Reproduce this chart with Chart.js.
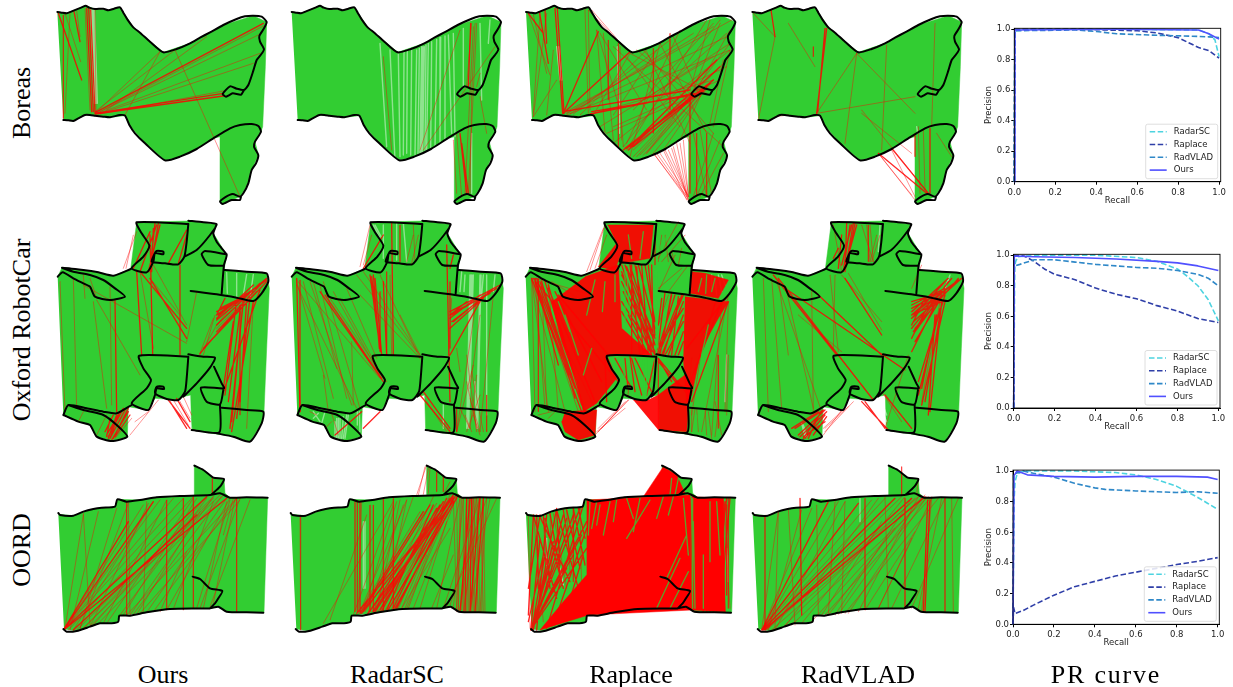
<!DOCTYPE html>
<html>
<head>
<meta charset="utf-8">
<script src="https://cdn.jsdelivr.net/npm/chart.js@4/dist/chart.umd.min.js"></script>
<style>
html,body{margin:0;padding:0;background:#fff;width:1233px;height:687px;overflow:hidden}
canvas{position:absolute;pointer-events:none}
.lab{position:absolute;font-family:"Liberation Serif",serif;font-size:26px;color:#000;white-space:nowrap;transform:translate(-50%,-50%)}
.rot{transform:translate(-50%,-50%) rotate(-90deg)}
</style>
</head>
<body>
<script>
/* ---------- PR curve data: [recall, precision] ---------- */
const prLabels = ['RadarSC','Raplace','RadVLAD','Ours'];
const prXTicks = [0,0.2,0.4,0.6,0.8,1.0];

const boreasRadarSC = [[0,0],[0.002,.99],[.1,1],[.5,1],[.9,.995],[.95,.97],[.98,.93],[1,.82]];
const boreasRaplace = [[0,0],[.003,1],[.3,1],[.6,.99],[.7,.975],[.8,.945],[.9,.88],[.95,.86],[1,.81]];
const boreasRadVLAD = [[0,0],[.003,.99],[.3,.995],[.4,.985],[.5,.97],[.7,.96],[.85,.955],[.95,.95],[1,.945]];
const boreasOurs    = [[0,0],[.003,.995],[.5,1],[.9,.995],[.95,.97],[1,.935]];

const oxfordRadarSC = [[0,0],[.005,.93],[.01,.96],[.02,.99],[.1,1],[.4,1],[.6,.985],[.7,.96],[.8,.91],[.85,.86],[.9,.8],[.95,.71],[1,.57]];
const oxfordRaplace = [[0,0],[.003,1],[.05,.995],[.1,.96],[.15,.91],[.2,.875],[.3,.84],[.4,.785],[.5,.745],[.6,.715],[.7,.67],[.8,.635],[.9,.585],[1,.56]];
const oxfordRadVLAD = [[0,0],[.003,.93],[.03,.94],[.1,.97],[.2,.97],[.3,.955],[.4,.94],[.5,.93],[.6,.92],[.7,.915],[.8,.9],[.9,.875],[.95,.85],[1,.8]];
const oxfordOurs    = [[0,0],[.003,.995],[.1,.99],[.3,.985],[.5,.975],[.7,.96],[.8,.95],[.9,.93],[1,.9]];

const oordRadarSC = [[0,0],[.005,.8],[.01,.93],[.02,.98],[.05,1],[.3,1],[.5,.99],[.6,.975],[.7,.945],[.8,.9],[.9,.83],[.95,.79],[1,.75]];
const oordRaplace = [[0,0],[.003,.11],[.01,.07],[.05,.09],[.1,.125],[.2,.19],[.3,.245],[.4,.28],[.5,.315],[.6,.34],[.7,.365],[.8,.39],[.9,.41],[1,.435]];
const oordRadVLAD = [[0,0],[.003,.98],[.05,1],[.1,.985],[.2,.96],[.3,.92],[.4,.89],[.45,.88],[.6,.87],[.7,.865],[.8,.86],[.9,.865],[1,.855]];
const oordOurs    = [[0,0],[.005,.97],[.02,1],[.04,.99],[.07,.975],[.2,.965],[.4,.96],[.6,.965],[.8,.965],[.95,.96],[1,.945]];

/* ---------- Trajectory outlines (map units) ---------- */
const boreasArea = [[52,36],[80,40],[110,28],[137,17],[165,27],[205,31],[240,22],[280,82],[370,157],[450,130],[550,75],[640,47],[680,66],[676,200],[668,380],[663,395],[645,425],[655,465],[635,510],[625,550],[600,590],[575,600],[548,612],[540,605],[540,410],[520,415],[470,447],[420,470],[375,481],[315,430],[268,375],[255,347],[210,352],[165,347],[135,345],[100,363],[70,360]];
const boreasTrack = [
 [[52,36],[65,38],[80,40],[95,34],[110,28],[125,22],[137,17],[148,23],[165,27],[190,26],[205,31],[222,26],[240,22],[250,38],[262,58],[280,82],[300,98],[330,125],[370,157],[410,147],[450,130],[480,113],[510,97],[550,75],[590,57],[615,49],[640,47],[665,50],[680,66],[672,85],[658,108],[660,125],[672,148],[662,165],[650,180],[640,212],[625,255],[612,270],[590,266],[570,259],[548,282],[558,290],[578,280],[603,284],[612,270]],
 [[70,360],[85,361],[100,363],[115,355],[135,345],[150,345],[165,347],[190,350],[210,352],[240,345],[255,347],[268,375],[285,400],[315,430],[375,481],[420,470],[470,447],[520,415],[570,385],[600,375],[635,372],[655,378],[663,395],[645,425],[642,440],[655,465],[648,490],[635,510],[625,550],[610,580],[600,590],[578,582],[555,592],[540,605],[548,612],[575,600],[600,600],[603,590]]
];
const oxfordArea = [[53,185],[66,158],[130,165],[220,182],[272,162],[290,22],[445,18],[530,28],[520,55],[560,120],[552,165],[680,175],[688,220],[680,400],[672,590],[665,625],[630,680],[580,665],[455,645],[452,540],[430,545],[415,555],[345,550],[322,585],[265,575],[262,665],[215,678],[170,665],[150,630],[115,620],[70,600]];
const oxfordTrack = [
 [[53,185],[68,172],[100,190],[130,205],[150,215],[165,245],[210,255],[255,245],[225,220],[190,195],[150,180],[100,170],[66,158],[130,165],[175,172],[220,182],[272,162]],
 [[445,27],[290,22],[305,55],[328,92],[310,125],[275,160],[320,172],[340,140],[345,115],[370,118],[370,110],[350,108],[342,120],[335,140],[375,145],[415,148],[433,125],[440,80],[445,27]],
 [[445,17],[490,22],[530,28],[510,60],[470,105],[433,125]],
 [[530,28],[520,55],[530,80],[545,100],[560,120],[552,150],[545,235]],
 [[555,165],[620,170],[680,175],[685,200],[665,235],[640,258],[590,248],[530,238],[452,228]],
 [[560,118],[495,108],[485,118],[505,150],[550,152]],
 [[445,425],[297,422],[310,460],[333,495],[320,520],[275,565],[325,585],[345,540],[350,520],[372,522],[370,515],[350,515],[345,535],[380,552],[415,555],[435,530],[440,490],[445,425]],
 [[445,418],[490,425],[525,428],[510,458],[470,505],[430,545]],
 [[522,455],[545,505],[552,520],[483,518],[500,560],[540,568],[550,525]],
 [[540,568],[538,652],[455,645]],
 [[545,578],[620,585],[670,590],[665,625],[630,680],[580,665],[530,655]],
 [[70,600],[85,570],[140,580],[190,590],[230,595],[275,570]],
 [[70,600],[115,620],[150,630],[170,665],[215,678],[262,665],[230,630],[190,600],[130,585],[85,570]]
];
const oordArea = [[55,178],[100,182],[160,162],[225,155],[232,133],[300,135],[350,127],[463,123],[463,32],[490,45],[520,68],[552,72],[555,115],[570,128],[683,128],[672,473],[620,472],[560,470],[535,455],[510,460],[390,462],[320,472],[238,482],[235,500],[180,505],[110,528],[72,522]];
const oordTrack = [
 [[55,174],[60,180],[100,182],[130,170],[160,162],[185,158],[225,155],[232,133],[260,140],[300,135],[350,127],[420,123],[510,120],[540,115],[570,128],[620,127],[683,128]],
 [[463,32],[490,45],[520,68],[552,72],[540,95],[515,118]],
 [[70,522],[80,530],[110,528],[150,515],[180,505],[215,505],[235,500],[238,482],[270,482],[320,472],[390,462],[510,460],[535,455],[560,470],[620,472],[670,473]],
 [[458,365],[480,372],[510,400],[547,408],[535,430],[525,445],[510,460]]
];

/* ---------- Correspondence lines: [x1,y1,x2,y2] ---------- */
const b1Bold = [[55,40,125,240],[102,35,120,125],[140,25,155,335],[146,25,160,335],[152,30,165,340],[165,342,550,288],[165,340,550,280],[165,338,670,70]];
const b1Thin = [[75,40,122,185],[110,32,120,110],[165,30,168,335],[135,25,150,330],[170,340,670,78],[170,340,665,100],[170,342,660,160],[175,342,640,190],[180,342,555,272],[255,345,360,155],[200,330,500,110],[165,335,405,150],[405,150,600,590],[165,340,360,155],[70,45,70,355],[90,40,75,340]];
const b1Gap  = [[152,30,163,310],[156,30,167,310],[160,30,170,310],[163,30,172,310],[154,30,165,310],[158,30,169,310]];

const b2Bold = [[540,400,560,580],[545,430,565,580],[572,70,565,260]];
const b2Thin = [[310,170,335,450],[540,90,420,450],[645,140,430,450],[575,70,560,260],[585,70,575,285],[590,70,565,580],[580,80,555,580],[600,290,620,400],[600,220,590,260],[530,400,545,590],[520,420,530,580],[575,285,570,580]];
const b2Gap  = [[382,150,380,460],[425,140,420,460],[429,140,424,460],[433,140,428,460],[445,130,440,450],[470,118,465,440],[505,105,515,400],[575,400,575,580],[300,130,320,440],[330,150,345,480],[600,70,605,300],[630,60,625,130],[410,150,405,465],[355,160,360,470],[372,155,370,465],[395,148,392,465],[418,145,414,462],[438,135,435,455],[455,125,452,445],[482,112,480,430],[495,108,495,425],[520,100,525,410],[550,85,550,260]];

const b3Bold = [[745,40,790,100],[778,35,805,190],[795,30,800,130],[825,25,848,340],[832,25,852,340],[850,340,1050,155],[850,340,955,95],[930,342,1245,280],[935,335,1240,285],[850,335,1230,270],[1035,445,1300,240],[1030,450,1280,260],[1050,440,1310,180],[1040,445,1290,250],[1060,440,1270,270],[1045,450,1320,200]];
const b3Thin = [[745,40,810,225],[915,28,925,340],[925,30,930,330],[950,90,975,400],[1015,130,1015,440],[1020,140,1025,420],[850,340,1355,60],[860,340,1340,110],[860,345,1350,150],[940,340,1300,240],[1050,160,1280,280],[1000,140,1330,440],[1090,150,1300,400],[1170,100,1170,330],[1200,90,1040,430],[1280,60,1040,450],[1320,60,1030,440],[1350,130,1100,460],[1330,190,1060,470],[960,380,1300,170],[1000,430,1350,150],[950,90,1020,330],[1230,290,1230,580],[1240,400,1280,590],[1300,400,1240,590],[1330,460,1260,590],[1280,400,1280,590],[1120,460,1220,590],[1150,450,1220,600],[1165,450,1225,590],[1190,430,1225,600],[1210,420,1225,590],[1140,460,1220,580],[1130,460,1218,585],[1175,445,1222,595],[925,30,1030,140],[935,30,1040,150],[1100,155,1230,430],[1140,130,1050,470],[1180,110,1260,290],[1250,290,1100,460],[1230,290,1060,450],[970,100,1000,420],[800,40,760,350],
 [1290,60,1230,270],[1320,70,1240,270],[1350,90,1250,270],[1300,240,1120,460],[1290,250,1090,465],[1280,260,1150,450],[1260,280,1080,465],[1240,285,1070,470],[1270,270,1200,420],[1330,180,1290,370],[1350,150,1300,380],[860,340,1300,80],[870,342,1240,100],[880,342,1170,120],[900,345,1100,150],[940,345,1050,160],[1000,345,1130,150],[1060,330,1300,70],[1100,310,1340,100],[1130,300,1340,200],[1000,380,1320,240],[980,400,1280,270],[960,100,1100,330],[1040,170,1200,380],[1070,150,1230,280],[1140,130,1280,400],[1250,400,1250,585],[1260,390,1295,585],[1320,420,1250,590],[760,45,800,220],[780,40,760,340],[830,240,760,350],[820,150,800,345],[1120,145,1120,400],[1020,300,1030,440],[985,120,985,300],[1060,320,1350,130],[1155,450,1222,585],[1180,440,1224,598],[1200,430,1226,590],[1125,465,1223,600]];
const b3Gap  = [[830,140,840,240],[834,140,844,240],[838,140,846,240],[1012,140,1016,300],[1018,300,1018,400]];

const b4Bold = [[78,30,90,110],[245,85,215,340],[240,85,218,335],[400,460,545,580],[440,445,550,580],[555,385,555,580]];
const b4Thin = [[25,40,90,110],[90,110,40,360],[205,140,205,170],[130,70,210,200],[215,340,335,160],[335,160,300,430],[425,135,410,450],[335,160,510,340],[350,340,500,460],[400,460,510,600],[510,400,510,470],[520,380,525,580],[535,390,540,570],[570,70,560,380],[575,400,620,470],[215,340,510,290],[90,350,130,345],[350,330,550,580],[440,450,510,590],[400,460,500,585]];
const b4Gap  = [[515,380,518,400]];

const o1Bold = [[290,170,305,420],[330,60,338,420],[345,25,330,160],[355,25,330,170],[300,170,440,340],[330,190,440,370],[440,45,385,145],[440,60,415,145],[280,160,330,50],[225,255,230,590],[680,190,530,315],[670,200,530,350],[640,230,480,415],[650,215,530,300],[610,250,530,290],[590,255,555,540],[660,225,550,530],[640,260,575,650],[610,250,575,620],[620,255,600,560],[555,250,530,300],[250,580,205,665],[265,580,220,670],[240,590,200,660],[220,600,195,650],[235,600,210,670],[385,555,450,640],[390,560,440,640],[410,550,450,620],
 [680,195,535,300],[660,205,530,330],[640,210,530,310],[620,235,530,300],[600,250,540,280],[680,200,500,390],[650,230,490,400],[610,260,570,640],[630,245,590,610],[600,290,565,560],[580,320,550,520],[255,585,210,670],[230,600,205,670],[210,610,200,665],[265,590,215,675],[270,600,225,665],[350,30,300,170],[340,40,335,170],[360,30,325,170]];
const o1Thin = [[130,180,135,250],[170,255,300,480],[130,210,440,385],[210,215,215,570],[300,170,340,400],[275,610,225,670],[355,555,270,660],[325,590,285,620],[430,545,455,600],[525,300,490,420],[520,310,478,420],[470,230,440,380],[420,150,420,420],[290,50,250,160],[280,60,258,160],[330,190,420,300],[340,150,440,330],[600,270,600,600],[530,330,480,420],[610,260,530,340],[570,280,530,330],[150,190,170,250],[200,600,170,660],[130,590,115,620],[100,190,110,580],[60,200,75,590],[160,260,200,580],[640,260,620,640],[420,560,450,610],[400,555,445,630]];
const o1Gap  = [[560,172,562,235],[590,175,590,245],[640,178,630,250],[620,178,610,240],[440,545,455,640]];

const o2Bold = [[270,180,300,400],[285,190,305,420],[310,200,320,420],[335,25,340,420],[50,190,60,590],[120,230,310,500],[135,240,305,490],[310,60,250,160],[500,90,510,560],[520,120,510,160],[660,210,510,290],[600,240,510,310],[640,220,520,320],[610,250,510,340],[600,260,510,420],[245,590,165,660],[300,590,250,640],[420,540,510,650],[430,530,510,640],[275,185,302,410],[280,180,298,400],[650,220,515,300],[630,235,515,295],[560,260,510,300],[620,240,515,320]];
const o2Thin = [[50,200,135,490],[50,195,300,490],[50,210,230,580],[90,200,215,570],[130,200,240,580],[150,250,320,500],[240,240,420,430],[300,180,420,430],[360,300,420,420],[590,250,530,650],[640,240,600,650],[560,420,590,650],[530,400,540,470],[580,450,530,650],[600,300,570,520],[620,540,620,650],[270,30,240,155],[275,60,250,150],[400,60,380,140],[415,60,395,145],[440,560,500,650],[400,30,405,140],[360,30,360,140],[590,480,570,640],[530,580,530,650],[600,540,560,650],[580,600,600,660],[150,580,175,660],[110,600,90,590],
 [60,195,60,590],[70,200,160,550],[100,200,170,460],[120,210,200,550],[160,230,300,480],[180,250,310,490],[200,220,290,430],[230,180,410,410],[250,170,420,420],[300,230,300,410],[320,170,320,420],[330,180,335,420],[510,200,510,400],[515,250,505,420],[540,580,570,640],[555,600,575,650],[570,550,600,650],[575,470,610,650],[560,500,590,640],[135,640,155,620],[130,480,145,590],[215,380,220,570]];
const o2Gap  = [[570,180,560,640],[573,180,563,640],[600,180,590,640],[603,180,593,640],[620,180,620,600],[545,170,540,230],[310,30,310,130],[370,25,380,140],[280,30,300,70],[285,30,303,65],[100,590,120,620],[200,600,190,670],[205,600,195,670],[165,620,165,670],[170,610,170,670],[175,610,175,670],[115,595,100,610],[135,590,125,625],[555,180,552,230],[490,570,490,640],[645,180,640,230],[350,25,350,135],[576,180,566,640],[580,180,570,500],[610,180,605,240],[180,610,180,670],[190,605,185,670],[232,590,232,630],[238,590,240,650],[585,500,590,640]];

const o3Blob = [
 [[210,185],[310,150],[320,340],[410,420],[275,420],[305,490],[245,565],[205,590],[185,500],[140,380],[110,260]],
 [[278,30],[415,30],[405,130],[320,145],[318,115],[300,165],[250,155],[305,85]],
 [[510,245],[640,260],[610,310],[560,400],[530,540],[515,560],[505,430]],
 [[355,555],[400,555],[430,540],[510,480],[525,520],[515,650],[430,645]],
 [[150,590],[245,585],[240,660],[190,675],[150,650],[140,620]],
 [[530,170],[570,175],[640,195],[610,250],[525,235]]
];
const o3Bold = [[320,150,410,420],[330,150,415,400],[345,150,420,390],[320,200,420,410],[320,260,420,420],[370,150,420,340],[390,150,420,320],[350,150,350,420],[380,150,400,420],[320,180,415,370],[505,240,430,420],[505,260,440,420],[505,300,460,420],[480,240,430,400],[505,350,480,420],[50,190,200,590],[60,190,130,450],[80,200,180,550],[90,200,210,590],[100,210,200,560],[130,240,280,420],[55,190,310,500],[270,430,275,560],[330,430,340,540],[350,430,380,540],[430,430,470,500],[440,250,430,330],[470,240,440,390],
 [60,195,210,590],[65,190,170,480],[50,190,180,520],[75,200,200,570],[80,200,140,400],[60,200,110,350],[100,220,240,560],[120,230,260,500],[640,260,530,560],[620,260,525,500],[600,265,515,560],[640,240,515,400],[320,170,420,415],[335,155,420,370],[325,230,410,420],[340,300,400,420],[360,150,410,410],[400,150,420,360],[410,150,415,400],[320,290,390,410],[365,155,385,420],[345,150,375,420],[500,240,445,420],[495,250,425,420],[470,232,435,420],[450,232,430,390],[505,320,450,420],[505,380,490,420],[505,280,425,405],[490,245,470,420],[345,425,360,530],[360,430,410,530],[300,430,350,520],[420,430,395,540],[430,440,490,510],[520,540,430,430]];
const o3Thin = [[50,190,60,590],[50,190,100,590],[50,195,150,590],[60,200,190,590],[60,200,240,580],[60,190,90,580],[70,190,70,590],[640,260,630,590],[620,260,590,660],[530,650,530,580],[545,580,550,650],[580,590,590,670],[640,240,560,650],[600,560,620,660],[270,30,225,165],[275,60,240,160],[265,40,215,170],[340,555,240,660],[330,560,260,640],[340,555,250,650],[300,590,250,640],[330,580,245,650],[430,430,430,640],[420,60,420,150],[440,60,430,140],[470,110,480,150],[500,100,490,150],[110,590,70,600],[110,200,190,250],[60,190,230,240],[540,580,530,650],[560,400,530,600],[610,420,610,640],[640,420,635,600],[120,590,100,610],[460,240,430,330],[80,190,95,580],[100,200,130,590],[450,60,460,140],[490,20,430,130],[510,60,440,140],[480,120,430,230],[500,160,430,220],[520,150,460,230],[530,430,520,560],[570,580,575,660],[610,590,600,665]];
const o3Keep = [[330,170,330,320],[335,170,345,300],[420,160,425,420],[424,160,429,400],[455,30,430,120],[465,30,440,110],[318,430,340,540],[385,430,390,540],[395,430,395,540],[420,430,420,530],[600,190,590,230],[560,190,550,230],[575,180,572,235],[580,330,560,420],[545,600,545,640],[240,195,215,300],[270,200,262,290],[300,180,300,260],[230,400,205,480],[340,60,350,130],[385,50,375,130],[150,300,190,420],[130,260,165,350]];
const o3Gap  = [[600,185,605,240],[610,180,620,230],[620,180,630,210],[590,180,590,220],[635,420,630,560],[285,600,250,640]];

const o4Bold = [[305,25,300,165],[325,25,300,170],[330,25,310,130],[85,180,275,420],[100,190,385,555],[120,220,480,465],[300,190,410,360],[210,230,410,420],[590,260,500,300],[610,190,500,290],[600,200,500,310],[640,190,510,340],[580,250,500,410],[600,240,520,500],[590,260,555,590],[570,300,550,600],[600,260,530,570],[360,560,420,640],[350,560,430,645],[420,540,500,640],[240,585,160,660],[230,590,175,670],[220,590,140,640],[240,600,180,670],[590,230,500,280],[620,190,500,340],
 [640,195,500,300],[620,210,500,310],[600,220,500,270],[580,235,500,260],[560,245,500,300],[610,200,505,350],[600,230,510,380],[590,240,510,350],[560,250,500,370],[540,250,500,330],[650,190,505,320],[575,300,530,520],[590,270,540,560],[585,280,520,540],[245,590,165,665],[235,585,150,640],[225,595,190,670],[245,605,205,660],[240,620,175,665],[315,30,295,170],[320,30,290,150],[335,30,305,140],[290,60,280,160],[280,100,265,130]];
const o4Thin = [[55,190,70,590],[80,190,110,580],[125,230,205,580],[200,220,205,590],[255,180,280,410],[290,180,410,320],[370,30,370,140],[350,30,385,140],[405,60,380,140],[325,560,240,650],[300,580,235,640],[410,530,470,620],[265,30,290,170],[310,175,410,345],[160,300,290,410],[490,420,420,640],[530,150,500,220],[585,260,530,560],[95,200,230,590],[365,30,375,140],[375,30,385,140],[395,60,375,140],[310,575,240,640],[290,585,235,660],[100,190,130,420],[270,180,265,400]];
const o4Gap  = [[405,30,400,110],[390,570,420,630],[400,565,425,620],[170,625,180,665],[615,180,600,220],[395,570,420,620],[410,560,425,600],[175,630,185,665]];

const r1Bold = [[72,522,340,140],[72,522,265,200],[75,520,500,125],[75,522,560,130],[100,525,470,180]];
const r1Thin = [[75,520,130,180],[90,525,175,170],[120,520,230,160],[150,515,325,145],[190,505,380,135],[150,515,520,130],[180,500,550,120],[240,480,500,130],[260,480,590,130],[300,475,600,135],[280,478,545,125],[260,140,260,480],[265,140,270,480],[380,135,380,465],[430,130,430,465],[460,125,460,460],[480,460,600,130],[510,455,630,135],[520,445,585,130],[590,130,590,470],[550,240,580,130],[517,70,517,120],[360,470,440,290],[130,520,380,260],[100,525,340,140],[120,520,265,145],
 [72,522,310,150],[72,522,360,135],[72,522,400,130],[72,522,430,130],[85,525,460,125],[110,525,520,125],[130,520,540,120],[160,510,500,125],[200,505,460,130],[250,480,470,130],[270,480,520,125],[290,478,480,170],[320,472,560,130],[340,470,590,130],[380,465,570,130],[400,462,520,140],[470,460,570,135],[490,460,560,140],[130,175,150,510],[320,140,310,472]];

const r2Bold = [[230,475,500,150],[250,470,520,120],[260,480,520,140],[280,470,510,130],[300,465,490,140],[320,465,460,150],[340,460,500,130],[240,475,430,170],[350,460,520,130],[240,140,240,470],[560,130,555,470],[575,130,570,470],[245,475,450,150],[265,475,480,150],[285,470,520,125],[305,468,470,160],[325,464,525,125],[345,460,535,120],[540,470,570,130],[570,470,600,130],[585,470,610,130]];
const r2Thin = [[60,180,62,525],[130,505,340,140],[150,495,260,180],[245,140,235,470],[270,150,270,470],[380,460,520,130],[400,460,530,125],[470,460,540,130],[490,460,600,130],[510,450,620,130],[530,465,545,130],[545,465,560,130],[560,470,570,130],[575,470,585,130],[590,470,595,130],[605,470,610,130],[550,470,600,130],[570,470,630,130],[540,465,590,130],[500,455,650,130],[610,130,615,470],[440,30,410,120],[450,35,445,115],[470,45,470,110],[490,60,490,110],[510,80,495,110],[290,470,360,135],[310,465,380,135],[220,480,340,150],[365,460,510,120],[420,460,500,200],[455,460,520,300],[535,465,530,130],[585,470,575,130],[600,470,590,130],
 [235,475,420,170],[255,470,470,145],[275,472,500,140],[295,468,530,120],[315,466,510,135],[335,462,480,150],[355,460,440,270],[365,460,510,220],[375,460,440,300],[385,460,470,230],[240,470,380,135],[250,470,350,140],[265,470,370,150],[280,470,400,125],[300,470,460,125],[530,470,520,130],[535,470,540,130],[550,470,550,130],[555,470,580,130],[565,470,565,130],[580,470,575,130],[595,470,580,130],[600,470,620,130],[610,470,600,130],[520,460,550,130],[225,140,225,470],[232,140,232,470],[280,150,280,470],[310,130,310,470],[340,130,340,465],[435,35,415,120],[445,40,430,118]];
const r2Gap  = [[255,200,255,400],[250,200,250,400]];

const r3Blob = [
 [[920,135],[1230,120],[1235,465],[925,480],[780,525],[850,440],[920,360]],
 [[1235,125],[1330,130],[1335,470],[1235,465]],
 [[1090,125],[1150,35],[1190,60],[1215,115]]
];
const r3Bold = [[752,525,920,200],[752,525,920,280],[752,525,880,300],[752,525,900,160],[755,525,850,180],[760,525,830,160],[770,525,800,180],[745,480,760,180],[745,400,780,180],[800,520,910,150],[820,510,920,220],[850,500,910,300],[760,510,820,260],[770,490,860,190],[795,190,850,400],[830,170,840,330],[1340,130,1300,470],[1350,130,1320,470],[1340,150,1340,420],[745,500,790,300],
 [752,525,880,180],[752,525,905,240],[752,525,860,340],[752,525,840,230],[755,525,795,300],[752,525,780,250],[790,180,810,400],[810,175,840,350],[770,180,775,400],[760,180,830,430],[780,185,870,380],[860,165,900,340],[880,160,915,330],[895,160,915,250],[830,165,895,400],[850,165,870,300],[1240,130,1260,460],[1250,130,1290,470],[1260,130,1270,470],[1280,130,1310,470],[1300,130,1280,470],[1320,130,1335,470],[1335,140,1300,460],[1230,130,1240,465]];
const r3Thin = [[745,180,750,520],[760,180,790,500],[790,180,800,400],[810,175,815,350],[820,175,860,400],[860,165,870,350],[880,160,880,380],[900,160,905,400],[1345,130,1345,460],[1330,140,1350,460],[1150,40,1100,120],[1160,45,1120,120],[1330,135,1345,300],[1170,50,1130,120],[1180,55,1150,120]];
const r3Keep = [[1240,200,1245,460],[1236,130,1238,460],[1270,300,1270,460],[1160,370,1220,240],[1130,460,1200,310],[1170,460,1225,350],[1210,130,1225,300],[1175,70,1170,120],[1195,70,1185,120],[950,140,935,220],[990,140,970,240],[1110,135,1040,250],[1290,140,1290,320],[1310,140,1320,300],[930,140,925,240],[960,150,950,210],[1010,135,1000,200],[1040,130,1060,190],[1080,130,1060,230],[1150,125,1130,190],[1180,125,1165,180]];
const r3Gap  = [[800,250,800,330],[840,340,850,390],[1340,280,1345,380]];

const r4Bold = [[50,525,250,140],[50,525,340,145],[52,525,450,130],[55,525,540,125],[60,525,500,130],[555,135,540,470],[548,135,535,470],[165,130,170,480],[480,130,480,460]];
const r4Thin = [[50,525,100,170],[70,525,170,165],[90,525,300,140],[120,515,400,130],[170,505,480,125],[240,480,560,125],[270,480,500,130],[300,475,580,130],[340,470,520,125],[400,460,560,130],[440,460,600,130],[500,460,640,130],[100,170,90,520],[215,150,220,480],[300,140,290,475],[360,130,360,465],[420,125,430,460],[600,130,600,470],[620,130,625,470],[470,35,470,120],[520,70,515,120],[530,470,560,130],[60,180,60,525],[230,480,410,200],[250,480,450,220],
 [52,525,200,160],[52,525,280,140],[52,525,380,135],[55,525,420,130],[60,525,470,125],[65,525,520,125],[80,525,540,120],[110,520,510,130],[140,510,550,125],[200,500,535,130],[280,478,530,130],[310,475,545,125],[520,460,590,130],[360,465,510,230],[400,460,500,250],[130,160,150,510],[270,140,250,480]];
const r4Gap  = [[345,130,345,200]];

/* ---------- Which data goes in which panel ---------- */
const rows = {
 boreas:{area:boreasArea,track:boreasTrack},
 oxford:{area:oxfordArea,track:oxfordTrack},
 oord:{area:oordArea,track:oordTrack}
};
const panels = [
 {row:'boreas',left:40, top:0,  w:240,h:210,xs:0,  dx:0,   bold:b1Bold,thin:b1Thin,gap:b1Gap},
 {row:'boreas',left:280,top:0,  w:240,h:210,xs:0,  dx:-17, bold:b2Bold,thin:b2Thin,gap:b2Gap},
 {row:'boreas',left:520,top:0,  w:240,h:210,xs:720,dx:686, bold:b3Bold,thin:b3Thin,gap:b3Gap},
 {row:'boreas',left:745,top:0,  w:240,h:210,xs:0,  dx:-30, bold:b4Bold,thin:b4Thin,gap:b4Gap},
 {row:'oxford',left:40, top:215,w:240,h:230,xs:0,  dx:0,   bold:o1Bold,thin:o1Thin,gap:o1Gap},
 {row:'oxford',left:280,top:215,w:240,h:230,xs:0,  dx:-18, bold:o2Bold,thin:o2Thin,gap:o2Gap},
 {row:'oxford',left:515,top:215,w:240,h:230,xs:0,  dx:-21, bold:o3Bold,thin:o3Thin,gap:o3Gap,blob:o3Blob,keep:o3Keep,blobColor:'rgba(255,0,0,.93)'},
 {row:'oxford',left:745,top:215,w:240,h:230,xs:0,  dx:-31, bold:o4Bold,thin:o4Thin,gap:o4Gap},
 {row:'oord',  left:40, top:455,w:240,h:190,xs:0,  dx:0,   bold:r1Bold,thin:r1Thin,gap:[]},
 {row:'oord',  left:280,top:455,w:240,h:190,xs:0,  dx:-23, bold:r2Bold,thin:r2Thin,gap:r2Gap},
 {row:'oord',  left:520,top:455,w:240,h:190,xs:720,dx:683, bold:r3Bold,thin:r3Thin,gap:r3Gap,blob:r3Blob,keep:r3Keep,blobColor:'#ff0000'},
 {row:'oord',  left:745,top:455,w:240,h:190,xs:0,  dx:-32, bold:r4Bold,thin:r4Thin,gap:r4Gap}
];
const prPanels = [
 {left:984,top:22, w:245,h:184,area:[30.3,6.3,8.3,24.3],series:[boreasRadarSC,boreasRaplace,boreasRadVLAD,boreasOurs]},
 {left:984,top:248,w:245,h:184,area:[29.7,6.3,9,24],series:[oxfordRadarSC,oxfordRaplace,oxfordRadVLAD,oxfordOurs]},
 {left:984,top:464,w:245,h:184,area:[29,6,9.7,23.7],series:[oordRadarSC,oordRaplace,oordRadVLAD,oordOurs]}
];
const colLabels = [['Ours',163],['RadarSC',397],['Raplace',631],['RadVLAD',858],['PR curve',1106]];
const rowLabels = [['Boreas',103],['Oxford RobotCar',330],['OORD',550]];

/* ---------- Drawing ---------- */
function addCanvas(p){
  const c=document.createElement('canvas');
  c.width=p.w;c.height=p.h;
  c.style.left=p.left+'px';c.style.top=p.top+'px';
  c.style.width=p.w+'px';c.style.height=p.h+'px';
  document.body.appendChild(c);
  return c;
}
const pts = (a,dx)=>a.map(([x,y])=>({x:x+dx,y}));
const polylines = (list,dx)=>list.flatMap(l=>[...pts(l,dx),{x:NaN,y:NaN}]);
const segments = a=>a.flatMap(([x1,y1,x2,y2])=>[{x:x1,y:y1},{x:x2,y:y2},{x:NaN,y:NaN}]);
const base = {showLine:true,pointRadius:0,pointHoverRadius:0,borderCapStyle:'round',borderJoinStyle:'round',tension:0};

panels.forEach(p=>{
  const r=rows[p.row];
  const ds=[
    {...base,label:'area',data:pts(r.area,p.dx),fill:'shape',backgroundColor:'#32cd32',borderColor:'#32cd32',borderWidth:0.5,order:6},
    {...base,label:'gaps',data:segments(p.gap),borderColor:'rgba(255,255,255,.45)',borderWidth:1.4,order:5},
    {...base,label:'false thin',data:segments(p.thin),borderColor:'rgba(255,0,0,.42)',borderWidth:1,order:3},
    {...base,label:'false strong',data:segments(p.bold),borderColor:'rgba(255,0,0,.85)',borderWidth:1.3,order:2},
    {...base,label:'track',data:polylines(r.track,p.dx),borderColor:'#000',borderWidth:2,tension:0.2,order:0}
  ];
  (p.blob||[]).forEach((b,i)=>ds.push({...base,label:'dense '+i,data:pts(b,0),fill:'shape',backgroundColor:p.blobColor,borderColor:p.blobColor,borderWidth:0.5,order:4}));
  if(p.keep) ds.push({...base,label:'true',data:segments(p.keep),borderColor:'rgba(50,205,50,.8)',borderWidth:1.3,order:1});
  new Chart(addCanvas(p),{
    type:'scatter',
    data:{datasets:ds},
    options:{
      responsive:false,animation:false,events:[],
      layout:{padding:0},
      plugins:{legend:{display:false},tooltip:{enabled:false}},
      scales:{
        x:{type:'linear',display:false,min:p.xs,max:p.xs+p.w*3},
        y:{type:'linear',display:false,reverse:true,min:0,max:p.h*3}
      }
    }
  });
});

const prStyle=[
 {c:'#4dd3e0',dash:[5.5,2.5]},
 {c:'#2f3fa8',dash:[5.5,2.5]},
 {c:'#2f88c8',dash:[5.5,2.5]},
 {c:'#5050ff',dash:[]}
];
const FONT='"DejaVu Sans"';
const prFrame={id:'prFrame',
  afterDatasetsDraw(ch){
    const {ctx,chartArea:a}=ch;
    ctx.save();
    ctx.strokeStyle='#000';ctx.lineWidth=0.9;
    ctx.strokeRect(a.left,a.top,a.right-a.left,a.bottom-a.top);
    // legend inside the lower right corner
    const bw=72,bh=54.5,bx=a.right-bw-3,by=a.bottom-bh-3;
    ctx.beginPath();ctx.roundRect(bx,by,bw,bh,2);
    ctx.fillStyle='rgba(255,255,255,.85)';ctx.fill();
    ctx.strokeStyle='#d5d5d5';ctx.lineWidth=0.8;ctx.stroke();
    ctx.font='8.5px '+FONT;ctx.textBaseline='middle';ctx.textAlign='left';
    ch.data.datasets.forEach((d,i)=>{
      const y=by+7.5+i*12.8;
      ctx.beginPath();ctx.setLineDash(d.borderDash||[]);
      ctx.strokeStyle=d.borderColor;ctx.lineWidth=1.6;
      ctx.moveTo(bx+4,y);ctx.lineTo(bx+21,y);ctx.stroke();
      ctx.setLineDash([]);
      ctx.fillStyle='#222';ctx.fillText(d.label,bx+28,y);
    });
    ctx.restore();
  }
};
prPanels.forEach(p=>{
  const [al,at,ar,ab]=p.area;
  new Chart(addCanvas(p),{
    type:'scatter',
    data:{datasets:p.series.map((s,i)=>({...base,label:prLabels[i],
      data:s.map(([x,y])=>({x,y})),borderColor:prStyle[i].c,borderDash:prStyle[i].dash,
      borderWidth:1.6,borderCapStyle:'butt',order:3-i,clip:3}))},
    options:{
      responsive:false,animation:false,events:[],
      layout:{padding:{left:0,top:at,right:ar,bottom:0}},
      plugins:{legend:{display:false},tooltip:{enabled:false}},
      scales:{
        x:{type:'linear',min:0,max:1.008,
           afterBuildTicks(s){s.ticks=prXTicks.map(value=>({value}));},
           afterFit(s){s.height=ab;},
           grid:{drawOnChartArea:false,drawTicks:true,tickLength:3,color:'#000'},
           border:{display:true,color:'#000'},
           ticks:{maxRotation:0,padding:2.5,autoSkip:false,color:'#222',font:{family:FONT,size:8.5},callback:v=>v.toFixed(1)},
           title:{display:true,text:'Recall',color:'#222',padding:{top:0,bottom:0},font:{family:FONT,size:8.5}}},
        y:{type:'linear',min:0,max:1.006,
           afterBuildTicks(s){s.ticks=prXTicks.map(value=>({value}));},
           afterFit(s){s.width=al;},
           grid:{drawOnChartArea:false,drawTicks:true,tickLength:3,color:'#000'},
           border:{display:true,color:'#000'},
           ticks:{padding:1,autoSkip:false,color:'#222',font:{family:FONT,size:8.5},callback:v=>v.toFixed(1)},
           title:{display:true,text:'Precision',color:'#222',padding:{top:0,bottom:1},font:{family:FONT,size:8.5}}}
      }
    },
    plugins:[prFrame]
  });
});

colLabels.forEach(([t,x])=>{
  const d=document.createElement('div');d.className='lab';d.textContent=t;
  d.style.left=x+'px';d.style.top='675px';
  if(t==='PR curve') d.style.letterSpacing='1.8px';
  document.body.appendChild(d);
});
rowLabels.forEach(([t,y])=>{
  const d=document.createElement('div');d.className='lab rot';d.textContent=t;
  d.style.left='22px';d.style.top=y+'px';document.body.appendChild(d);
});
</script>
</body>
</html>
